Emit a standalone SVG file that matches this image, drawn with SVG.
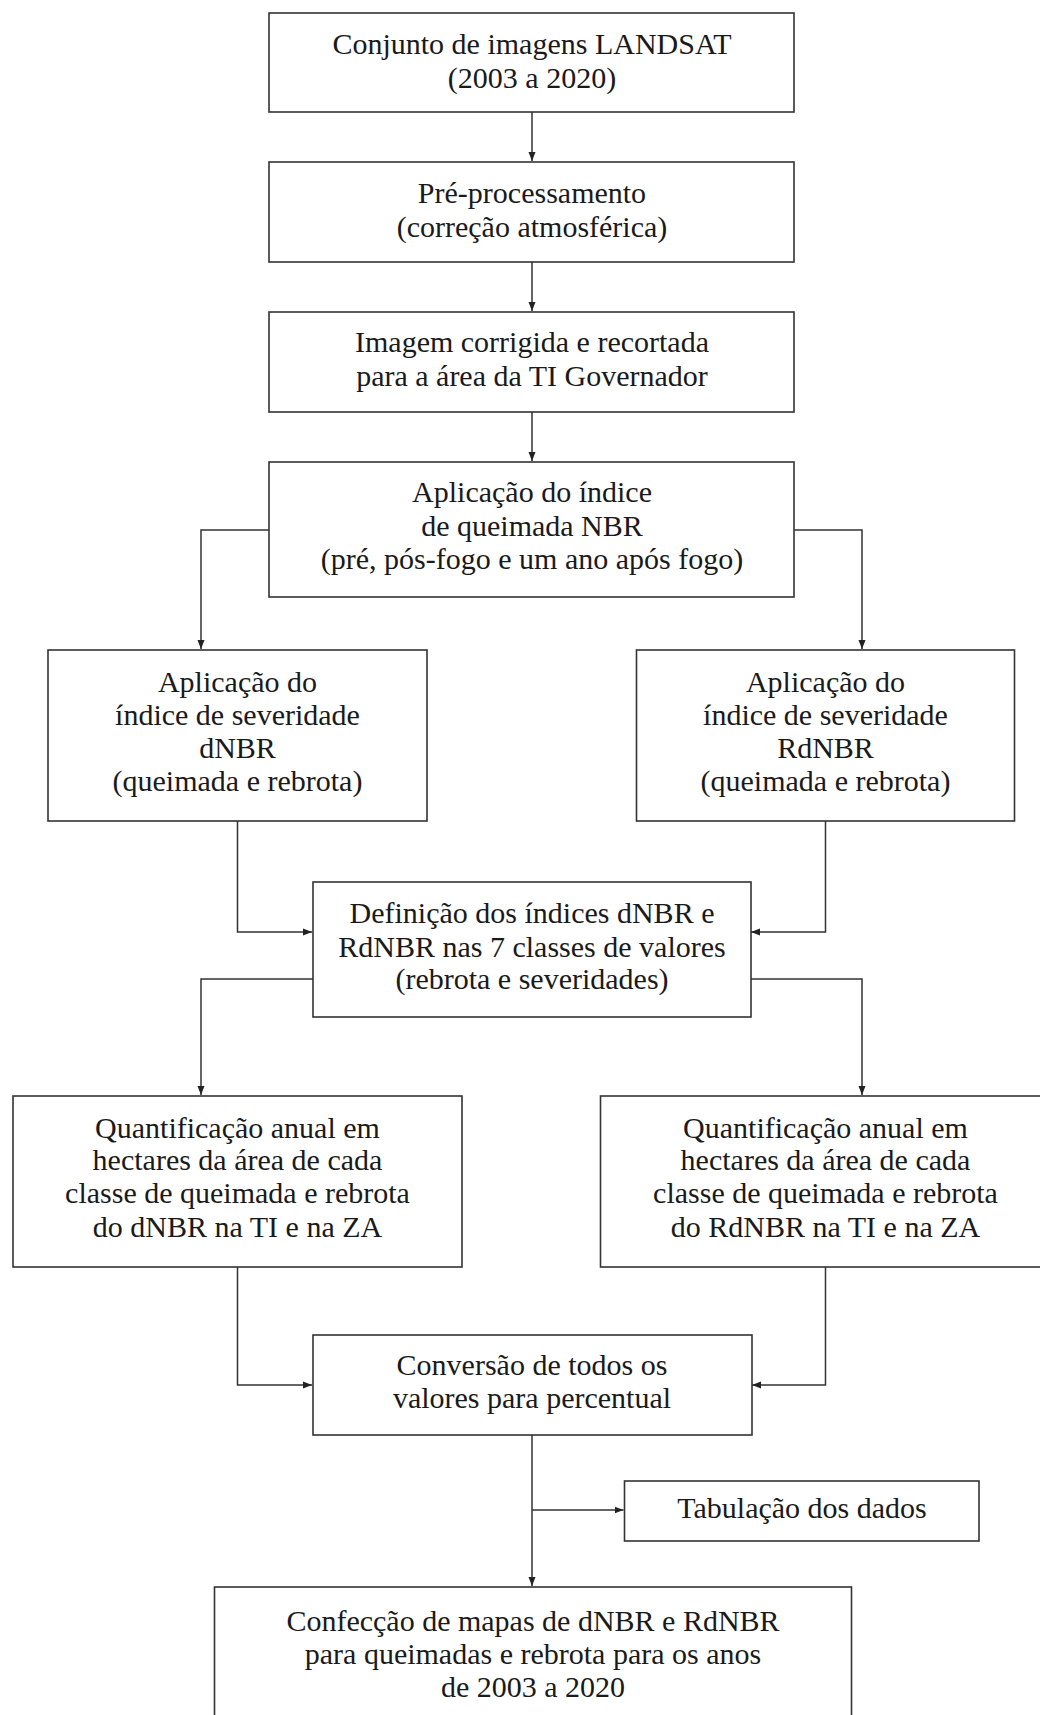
<svg xmlns="http://www.w3.org/2000/svg" width="1040" height="1715" viewBox="0 0 1040 1715">
<style>
.box{fill:#fff;stroke:#333;stroke-width:1.6}
.t{font-family:"Liberation Serif","Times New Roman",serif;font-size:30px;fill:#1a1a1a;text-anchor:middle}
.c{fill:none;stroke:#333;stroke-width:1.5}
</style>
<defs>
<marker id="ah" markerUnits="userSpaceOnUse" markerWidth="10" markerHeight="8" refX="9" refY="4" orient="auto">
<path d="M0,0.5 L9,4 L0,7.5 Z" fill="#222"/>
</marker>
</defs>
<rect width="1040" height="1715" fill="#fff"/>
<g id="connectors">
<path class="c" d="M532,112 V161" marker-end="url(#ah)"/>
<path class="c" d="M532,262 V311" marker-end="url(#ah)"/>
<path class="c" d="M532,412 V461" marker-end="url(#ah)"/>
<path class="c" d="M269,530 H201 V649" marker-end="url(#ah)"/>
<path class="c" d="M794,530 H862 V649" marker-end="url(#ah)"/>
<path class="c" d="M237.5,821 V932 H312" marker-end="url(#ah)"/>
<path class="c" d="M825.5,821 V932 H751" marker-end="url(#ah)"/>
<path class="c" d="M313,979 H201 V1095" marker-end="url(#ah)"/>
<path class="c" d="M750,979 H862 V1095" marker-end="url(#ah)"/>
<path class="c" d="M237.5,1267 V1385 H312" marker-end="url(#ah)"/>
<path class="c" d="M825.5,1267 V1385 H752" marker-end="url(#ah)"/>
<path class="c" d="M532,1435 V1586" marker-end="url(#ah)"/>
<path class="c" d="M532,1510 H623.5" marker-end="url(#ah)"/>
</g>
<g id="n1">
<rect class="box" x="269" y="13" width="525" height="99"/>
<text class="t" x="532" y="54">Conjunto de imagens LANDSAT</text>
<text class="t" x="532" y="88">(2003 a 2020)</text>
</g>
<g id="n2">
<rect class="box" x="269" y="162" width="525" height="100"/>
<text class="t" x="532" y="203">Pré-processamento</text>
<text class="t" x="532" y="237">(correção atmosférica)</text>
</g>
<g id="n3">
<rect class="box" x="269" y="312" width="525" height="100"/>
<text class="t" x="532" y="352">Imagem corrigida e recortada</text>
<text class="t" x="532" y="386">para a área da TI Governador</text>
</g>
<g id="n4">
<rect class="box" x="269" y="462" width="525" height="135"/>
<text class="t" x="532" y="502">Aplicação do índice</text>
<text class="t" x="532" y="536">de queimada NBR</text>
<text class="t" x="532" y="569">(pré, pós-fogo e um ano após fogo)</text>
</g>
<g id="n5">
<rect class="box" x="48" y="650" width="379" height="171"/>
<text class="t" x="237.5" y="692">Aplicação do</text>
<text class="t" x="237.5" y="725">índice de severidade</text>
<text class="t" x="237.5" y="758">dNBR</text>
<text class="t" x="237.5" y="791">(queimada e rebrota)</text>
</g>
<g id="n6">
<rect class="box" x="636.5" y="650" width="378" height="171"/>
<text class="t" x="825.5" y="692">Aplicação do</text>
<text class="t" x="825.5" y="725">índice de severidade</text>
<text class="t" x="825.5" y="758">RdNBR</text>
<text class="t" x="825.5" y="791">(queimada e rebrota)</text>
</g>
<g id="n7">
<rect class="box" x="313" y="882" width="438" height="135"/>
<text class="t" x="532" y="923">Definição dos índices dNBR e</text>
<text class="t" x="532" y="957">RdNBR nas 7 classes de valores</text>
<text class="t" x="532" y="989">(rebrota e severidades)</text>
</g>
<g id="n8">
<rect class="box" x="13" y="1096" width="449" height="171"/>
<text class="t" x="237.5" y="1138">Quantificação anual em</text>
<text class="t" x="237.5" y="1170">hectares da área de cada</text>
<text class="t" x="237.5" y="1203">classe de queimada e rebrota</text>
<text class="t" x="237.5" y="1237">do dNBR na TI e na ZA</text>
</g>
<g id="n9">
<rect class="box" x="600.5" y="1096" width="450" height="171"/>
<text class="t" x="825.5" y="1138">Quantificação anual em</text>
<text class="t" x="825.5" y="1170">hectares da área de cada</text>
<text class="t" x="825.5" y="1203">classe de queimada e rebrota</text>
<text class="t" x="825.5" y="1237">do RdNBR na TI e na ZA</text>
</g>
<g id="n10">
<rect class="box" x="313" y="1335" width="439" height="100"/>
<text class="t" x="532" y="1375">Conversão de todos os</text>
<text class="t" x="532" y="1408">valores para percentual</text>
</g>
<g id="n11">
<rect class="box" x="624.5" y="1481" width="354.5" height="60"/>
<text class="t" x="802" y="1518">Tabulação dos dados</text>
</g>
<g id="n12">
<rect class="box" x="214.5" y="1587" width="637" height="150"/>
<text class="t" x="533" y="1631">Confecção de mapas de dNBR e RdNBR</text>
<text class="t" x="533" y="1664">para queimadas e rebrota para os anos</text>
<text class="t" x="533" y="1697">de 2003 a 2020</text>
</g>
</svg>
